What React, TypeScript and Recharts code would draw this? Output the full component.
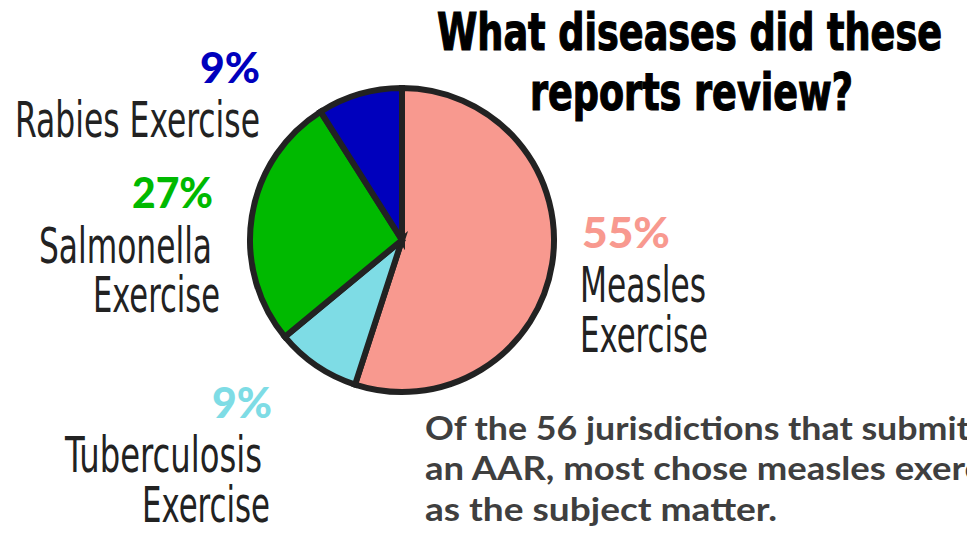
import React from 'react';
import { PieChart, Pie, Cell } from 'recharts';

// ---- data ----
const categories = ['Measles Exercise', 'Tuberculosis Exercise', 'Salmonella Exercise', 'Rabies Exercise'];
const values = [55, 9, 27, 9];
const pctLabels = ['55%', '9%', '27%', '9%'];
const labelLines = [['Measles', 'Exercise'], ['Tuberculosis', 'Exercise'], ['Salmonella', 'Exercise'], ['Rabies Exercise']];
const sliceColors = ['#F8998F', '#7EDCE5', '#00B900', '#0000BD'];
const titleLines = ['What diseases did these', 'reports review?'];
const noteLines = [
  'Of the 56 jurisdictions that submitted',
  'an AAR, most chose measles exercises',
  'as the subject matter.',
];

const data = categories.map((name, i) => ({ name, value: values[i] }));

// ---- layout / style ----
const W = 967;
const H = 533;
const LABEL_FONT = "'Liberation Sans Narrow', 'DejaVu Sans Condensed', Roboto, sans-serif";
const PCT_FONT = "Lato, 'Open Sans', sans-serif";
const LABEL_LAYOUT = [
  { pct: { x: 582, y: 248, w: 88 }, lines: [{ x: 580, y: 302, w: 126 }, { x: 580, y: 352, w: 128 }] },
  { pct: { x: 212, y: 418, w: 60 }, lines: [{ x: 65, y: 472, w: 197 }, { x: 142, y: 522, w: 128 }] },
  { pct: { x: 132, y: 208, w: 81 }, lines: [{ x: 39, y: 263, w: 173 }, { x: 93, y: 312, w: 127 }] },
  { pct: { x: 200, y: 83, w: 60 }, lines: [{ x: 15, y: 137, w: 245 }] },
];
const TITLE_LAYOUT = [
  { x: 437, y: 50, w: 505 },
  { x: 530, y: 110, w: 323 },
];
const NOTE_LAYOUT = [
  { x: 425, y: 440, w: 596 },
  { x: 425, y: 480, w: 618 },
  { x: 425, y: 521, w: 352 },
];

const renderLabel = (props: any) => {
  let i = typeof props.index === 'number' ? props.index : categories.indexOf(props.name);
  if (i < 0) i = categories.indexOf(props?.payload?.name);
  const L = LABEL_LAYOUT[i];
  if (!L) return null;
  return (
    <g key={`lbl-${i}`}>
      <text
        x={L.pct.x}
        y={L.pct.y}
        fill={sliceColors[i]}
        fontFamily={PCT_FONT}
        fontWeight={900}
        fontSize={42}
        textLength={L.pct.w}
        lengthAdjust="spacingAndGlyphs"
      >
        {pctLabels[i]}
      </text>
      {labelLines[i].map((t, j) => (
        <text
          key={j}
          x={L.lines[j].x}
          y={L.lines[j].y}
          fill="#222"
          fontFamily={LABEL_FONT}
          fontWeight={400}
          fontSize={49}
          textLength={L.lines[j].w}
          lengthAdjust="spacingAndGlyphs"
        >
          {t}
        </text>
      ))}
    </g>
  );
};

export default function App() {
  return (
    <div style={{ position: 'absolute', left: 0, top: 0, width: W, height: H, overflow: 'hidden', background: '#fff' }}>
      <PieChart width={W} height={H} margin={{ top: 0, right: 0, bottom: 0, left: 0 }}>
        <Pie
          data={data}
          dataKey="value"
          nameKey="name"
          cx={402}
          cy={240}
          outerRadius={152}
          innerRadius={0}
          startAngle={90}
          endAngle={-270}
          stroke="#222"
          strokeWidth={6}
          isAnimationActive={false}
          label={renderLabel}
          labelLine={false}
        >
          {data.map((d, i) => (
            <Cell key={d.name} fill={sliceColors[i]} stroke="#222" strokeWidth={6} />
          ))}
        </Pie>
      </PieChart>
      <svg width={W} height={H} style={{ position: 'absolute', left: 0, top: 0, pointerEvents: 'none' }}>
        {titleLines.map((t, i) => (
          <text
            key={i}
            x={TITLE_LAYOUT[i].x}
            y={TITLE_LAYOUT[i].y}
            fill="#000"
            fontFamily="'Liberation Sans Narrow', 'DejaVu Sans Condensed', Roboto, sans-serif"
            fontWeight={700}
            fontSize={52}
            stroke="#000"
            strokeWidth={1.2}
            textLength={TITLE_LAYOUT[i].w}
            lengthAdjust="spacingAndGlyphs"
          >
            {t}
          </text>
        ))}
        {noteLines.map((t, i) => (
          <text
            key={i}
            x={NOTE_LAYOUT[i].x}
            y={NOTE_LAYOUT[i].y}
            fill="#3f3f3f"
            fontFamily="Lato, 'Open Sans', sans-serif"
            fontWeight={700}
            fontSize={32}
            textLength={NOTE_LAYOUT[i].w}
            lengthAdjust="spacingAndGlyphs"
          >
            {t}
          </text>
        ))}
      </svg>
    </div>
  );
}
